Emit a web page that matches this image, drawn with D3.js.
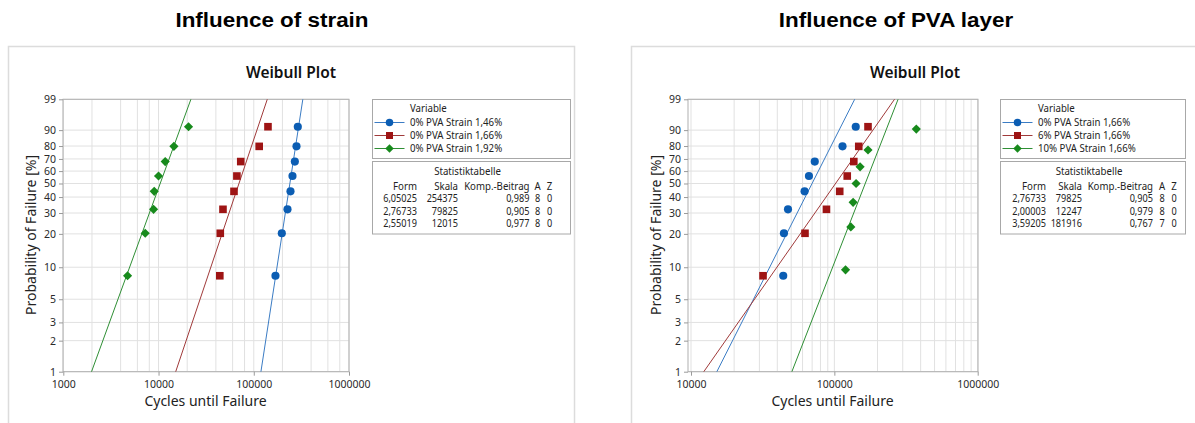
<!DOCTYPE html>
<html>
<head>
<meta charset="utf-8">
<script src="https://cdn.jsdelivr.net/npm/d3@7"></script>
<style>
  body { margin: 0; background: #fff; }
  svg { display: block; }
  .tick text { font-family: "Segoe UI", "Noto Sans", sans-serif; font-size: 10.5px; fill: #2a2a2a; }
  .tick line { stroke: #9a9a9a; }
</style>
</head>
<body>
<svg id="chart"></svg>
<script>

	// ---- data ----
	var yTicks = [1, 2, 3, 5, 10, 20, 30, 40, 50, 60, 70, 80, 90, 99];

	// median rank probabilities [%]
	var probN8 = [8.33, 20.24, 32.14, 44.05, 55.95, 67.86, 79.76, 91.67];
	var probN7 = [9.46, 22.97, 36.49, 50.0, 63.51, 77.03, 90.54];

	// cycles until failure
	var cycles146 = [169000, 197000, 226000, 243000, 255000, 270000, 281000, 290000];
	var cycles166 = [44000, 44500, 47500, 62000, 66500, 73000, 114000, 141000];
	var cycles192 = [4730, 7250, 8870, 9010, 10000, 11750, 14500, 20650];
	var cyclesPva6 = [31800, 62400, 88100, 109000, 123000, 136700, 148000, 171700];
	var cyclesPva10 = [119700, 130300, 135200, 141800, 151200, 171700, 373000];

	// legend names
	var strainNames = ["0% PVA Strain 1,46%", "0% PVA Strain 1,66%", "0% PVA Strain 1,92%"];
	var pvaNames = ["0% PVA Strain 1,66%", "6% PVA Strain 1,66%", "10% PVA Strain 1,66%"];

	// weibull fit (form / skala) used for the lines
	var strainShape = [6.05025, 2.76733, 2.55019];
	var strainScale = [254375, 79825, 12015];
	var pvaShape = [2.76733, 2.00003, 3.59205];
	var pvaScale = [79825, 122470, 181916];

	// statistics table as printed
	var strainForm = ["6,05025", "2,76733", "2,55019"];
	var strainSkala = ["254375", "79825", "12015"];
	var strainAD = ["0,989", "0,905", "0,977"];
	var strainA = ["8", "8", "8"];
	var strainZ = ["0", "0", "0"];

	var pvaForm = ["2,76733", "2,00003", "3,59205"];
	var pvaSkala = ["79825", "12247", "181916"];
	var pvaAD = ["0,905", "0,979", "0,767"];
	var pvaA = ["8", "8", "7"];
	var pvaZ = ["0", "0", "0"];

	var strainTicksX = [1000, 10000, 100000, 1000000];
	var pvaTicksX = [10000, 100000, 1000000];
	var strainGridMult = [1, 2, 4, 6, 8];
	var pvaGridMult = [1, 2, 3, 4, 5, 6, 7, 8, 9];

	// ---- styles ----
	var markColors = ["#0b5db3", "#9e1414", "#178a1c"];
	var lineColors = ["#3b7cc4", "#a03a3a", "#2f8f35"];
	var symbols = [d3.symbolCircle, d3.symbolSquare, d3.symbolSquare];
	var symSizes = [52, 58, 42];
	var symRot = [0, 0, 45];
	var uiFont = '"Segoe UI", "Noto Sans", sans-serif';

	var width = 1195,
		height = 423;

	var svg = d3.select("#chart")
		.attr("width", width)
		.attr("height", height);

	// weibull probability paper transform
	var wb = function(p) { return Math.log(-Math.log(1 - p / 100)); };

	// small legend text, slightly condensed like the original
	var legText = function(sel, x, y, txt, anchor, sx) {
		var t = sel.append("text")
			.attr("x", x)
			.attr("y", y)
			.attr("dy", "0.35em")
			.attr("text-anchor", anchor)
			.style("font-family", uiFont)
			.style("font-size", "10.5px")
			.attr("fill", "#222")
			.text(txt);
		var natural = t.node().getComputedTextLength();
		if (natural > 0) {
			t.attr("textLength", natural * sx).attr("lengthAdjust", "spacingAndGlyphs");
		}
		return t;
	};

	var panels = [
		{
			title: "Influence of strain", titleX: 272, plotTitleX: 291,
			panelX: 8.5, panelW: 566,
			frame: [63, 349], range: [63.3, 349], domain: [1000, 1000000],
			ticksX: strainTicksX, gridMult: strainGridMult,
			names: strainNames,
			series: [
				{ x: cycles146, p: probN8 },
				{ x: cycles166, p: probN8 },
				{ x: cycles192, p: probN8 }
			],
			shape: strainShape, scale: strainScale,
			table: { form: strainForm, skala: strainSkala, ad: strainAD, a: strainA, z: strainZ },
			legX: 372.5, legW: 198,
			cols: { form: 417, skala: 458, ad: 529.5, a: 537.5, z: 549.5 }
		},
		{
			title: "Influence of PVA layer", titleX: 896, plotTitleX: 915,
			panelX: 631.5, panelW: 700,
			frame: [688, 978], range: [691, 977.7], domain: [10000, 1000000],
			ticksX: pvaTicksX, gridMult: pvaGridMult,
			names: pvaNames,
			series: [
				{ x: cycles166, p: probN8 },
				{ x: cyclesPva6, p: probN8 },
				{ x: cyclesPva10, p: probN7 }
			],
			shape: pvaShape, scale: pvaScale,
			table: { form: pvaForm, skala: pvaSkala, ad: pvaAD, a: pvaA, z: pvaZ },
			legX: 1000.5, legW: 185,
			cols: { form: 1046, skala: 1082, ad: 1153, a: 1162, z: 1174 }
		}
	];

	var plotTop = 99.3,
		plotBottom = 371.7;

	panels.forEach(function(P) {

		// big title
		var tt = svg.append("text")
			.attr("x", P.titleX)
			.attr("y", 26.7)
			.attr("text-anchor", "middle")
			.style("font-family", "Arial, 'Liberation Sans', sans-serif")
			.style("font-weight", "bold")
			.style("font-size", "19.5px")
			.attr("fill", "#000")
			.text(P.title);
		tt.attr("textLength", tt.node().getComputedTextLength() * 1.15)
			.attr("lengthAdjust", "spacingAndGlyphs");

		// panel border
		svg.append("rect")
			.attr("x", P.panelX)
			.attr("y", 46.5)
			.attr("width", P.panelW)
			.attr("height", 420)
			.attr("fill", "#fff")
			.attr("stroke", "#dcdcdc")
			.attr("stroke-width", 1.5);

		var x = d3.scaleLog().domain(P.domain).range(P.range);
		var y = d3.scaleLinear().domain([wb(1), wb(99)]).range([plotBottom, plotTop]);

		var g = svg.append("g");

		// grid
		var gridX = [];
		for (var dec = P.domain[0]; dec < P.domain[1]; dec *= 10) {
			P.gridMult.forEach(function(m) { gridX.push(dec * m); });
		}
		gridX.push(P.domain[1]);

		g.selectAll(".vgrid").data(gridX).enter()
			.append("line")
			.attr("x1", function(d) { return x(d); })
			.attr("x2", function(d) { return x(d); })
			.attr("y1", plotTop)
			.attr("y2", plotBottom)
			.attr("stroke", "#e1e1e1")
			.attr("stroke-width", 1);

		g.selectAll(".hgrid").data(yTicks).enter()
			.append("line")
			.attr("x1", P.frame[0])
			.attr("x2", P.frame[1])
			.attr("y1", function(d) { return y(wb(d)); })
			.attr("y2", function(d) { return y(wb(d)); })
			.attr("stroke", "#e1e1e1")
			.attr("stroke-width", 1);

		// frame
		g.append("rect")
			.attr("x", P.frame[0])
			.attr("y", plotTop)
			.attr("width", P.frame[1] - P.frame[0])
			.attr("height", plotBottom - plotTop)
			.attr("fill", "none")
			.attr("stroke", "#b0b0b0")
			.attr("stroke-width", 1);

		// axes
		var yAxis = d3.axisLeft(y)
			.tickValues(yTicks.map(wb))
			.tickFormat(function(d, i) { return yTicks[i]; })
			.tickSize(4)
			.tickPadding(3);
		g.append("g")
			.attr("transform", "translate(" + P.frame[0] + ",0)")
			.call(yAxis)
			.call(function(a) { a.select(".domain").remove(); });

		var xAxis = d3.axisBottom(x)
			.tickValues(P.ticksX)
			.tickFormat(d3.format("d"))
			.tickSize(4)
			.tickPadding(5);
		g.append("g")
			.attr("transform", "translate(0," + plotBottom + ")")
			.call(xAxis)
			.call(function(a) { a.select(".domain").remove(); });

		// axis titles
		var cx = (P.frame[0] + P.frame[1]) / 2;
		g.append("text")
			.attr("x", cx - 0.5)
			.attr("y", 406)
			.attr("text-anchor", "middle")
			.style("font-family", uiFont)
			.style("font-size", "14px")
			.attr("fill", "#222")
			.text("Cycles until Failure");

		g.append("text")
			.attr("transform", "translate(" + (P.frame[0] - 27) + ",235) rotate(-90)")
			.attr("text-anchor", "middle")
			.style("font-family", uiFont)
			.style("font-size", "14px")
			.attr("fill", "#222")
			.text("Probability of Failure [%]");

		g.append("text")
			.attr("x", P.plotTitleX)
			.attr("y", 77.5)
			.attr("text-anchor", "middle")
			.style("font-family", uiFont)
			.style("font-size", "15.5px")
			.style("font-weight", 600)
			.attr("fill", "#111")
			.text("Weibull Plot");

		// fitted lines, clipped to 1..99 %
		var fitLine = d3.line()
			.x(function(d) { return x(d.x); })
			.y(function(d) { return y(wb(d.p)); });

		P.series.forEach(function(s, i) {
			var ends = [1, 99].map(function(p) {
				return { p: p, x: P.scale[i] * Math.pow(-Math.log(1 - p / 100), 1 / P.shape[i]) };
			});
			g.append("path")
				.datum(ends)
				.attr("d", fitLine)
				.attr("fill", "none")
				.attr("stroke", lineColors[i])
				.attr("stroke-width", 1);
		});

		// points
		P.series.forEach(function(s, i) {
			var pts = s.x.map(function(v, k) { return { x: v, p: s.p[k] }; });
			g.selectAll(".pt" + i).data(pts).enter()
				.append("path")
				.attr("d", d3.symbol().type(symbols[i]).size(symSizes[i]))
				.attr("transform", function(d) {
					return "translate(" + x(d.x) + "," + y(wb(d.p)) + ") rotate(" + symRot[i] + ")";
				})
				.attr("fill", markColors[i]);
		});

		// legend box
		var leg = svg.append("g");
		leg.append("rect")
			.attr("x", P.legX)
			.attr("y", 99.5)
			.attr("width", P.legW)
			.attr("height", 59)
			.attr("fill", "#fff")
			.attr("stroke", "#a8a8a8");

		legText(leg, P.legX + 37.5, 108.5, "Variable", "start", 0.92);

		var rowY = [122.5, 135.5, 148.5];
		P.names.forEach(function(name, i) {
			leg.append("line")
				.attr("x1", P.legX + 2)
				.attr("x2", P.legX + 32)
				.attr("y1", rowY[i])
				.attr("y2", rowY[i])
				.attr("stroke", lineColors[i])
				.attr("stroke-width", 1);
			leg.append("path")
				.attr("d", d3.symbol().type(symbols[i]).size(symSizes[i] * 0.85))
				.attr("transform", "translate(" + (P.legX + 17) + "," + rowY[i] + ") rotate(" + symRot[i] + ")")
				.attr("fill", markColors[i]);
			legText(leg, P.legX + 37.5, rowY[i], name, "start", 0.92);
		});

		// statistics table
		leg.append("rect")
			.attr("x", P.legX)
			.attr("y", 161.5)
			.attr("width", P.legW)
			.attr("height", 72.5)
			.attr("fill", "#fff")
			.attr("stroke", "#a8a8a8");

		legText(leg, P.legX + P.legW / 2 - 4, 171, "Statistiktabelle", "middle", 0.92);

		var headers = [
			{ key: "form", label: "Form", anchor: "end" },
			{ key: "skala", label: "Skala", anchor: "end" },
			{ key: "ad", label: "Komp.-Beitrag", anchor: "end" },
			{ key: "a", label: "A", anchor: "middle" },
			{ key: "z", label: "Z", anchor: "middle" }
		];
		var tabRows = [186, 198.5, 211, 223.5];

		headers.forEach(function(h) {
			var col = [h.label].concat(P.table[h.key]);
			col.forEach(function(d, i) {
				// the printed digits are narrow, squeeze number cells more
				legText(leg, P.cols[h.key], tabRows[i], d, h.anchor, i === 0 ? 0.92 : 0.87);
			});
		});
	});

</script>
</body>
</html>
